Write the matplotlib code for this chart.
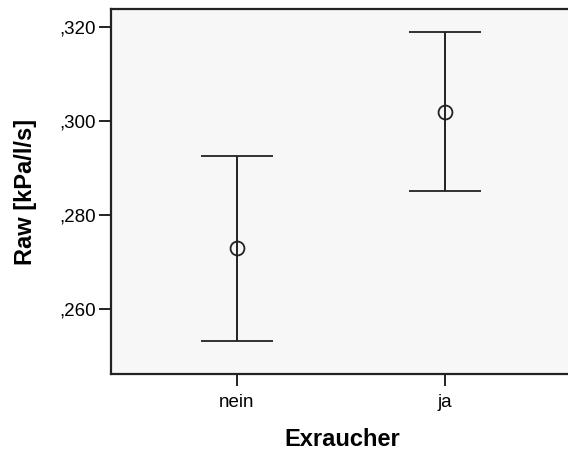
import matplotlib
matplotlib.use("Agg")
import matplotlib.pyplot as plt
import numpy as np

plt.rcParams['font.family'] = ['Liberation Sans', 'DejaVu Sans']

categories = ["nein", "ja"]
means = [0.2730, 0.3019]
ci_lower = [0.2532, 0.2851]
ci_upper = [0.2926, 0.3189]
yticks = [0.260, 0.280, 0.300, 0.320]
ytick_labels = [",260", ",280", ",300", ",320"]

fig = plt.figure(figsize=(5.68, 4.57), dpi=100)
ax_w = 1 - 111/568 + 0.01
ax = fig.add_axes([111/568, 83/457, ax_w, 365/457])
ax.set_facecolor("#f7f7f7")

x = np.arange(len(categories))
m = np.array(means)
lo = m - np.array(ci_lower)
hi = np.array(ci_upper) - m
ax.errorbar(x, m, yerr=[lo, hi], fmt='o', color='black', ecolor='#222222',
            markerfacecolor='none', markeredgecolor='#222222', markersize=10,
            markeredgewidth=1.3, elinewidth=1.4, capsize=26, capthick=1.4)

ax.set_xlim(-0.605, 1.62)
ax.set_ylim(0.2462, 0.3238)
ax.set_xticks(x)
ax.set_xticklabels(categories, fontsize=13.5)
ax.set_yticks(yticks)
ax.set_yticklabels(ytick_labels, fontsize=13.5)
ax.tick_params(axis='x', direction='out', length=8.5, width=1.4, color='#222222', pad=6)
ax.tick_params(axis='y', direction='out', length=8.5, width=1.4, color='#222222', pad=2.5)
for s in ['left', 'bottom', 'top']:
    ax.spines[s].set_linewidth(1.6)
    ax.spines[s].set_color('#222222')
ax.spines['right'].set_visible(False)

ax.set_ylabel("Raw [kPa/l/s]", fontsize=17, fontweight='bold')
ax.yaxis.set_label_coords((37 - 111) / (ax_w * 568), 0.5)
ax.set_xlabel("Exraucher", fontsize=17, fontweight='bold', labelpad=12)

fig.savefig("out.png", dpi=100)
